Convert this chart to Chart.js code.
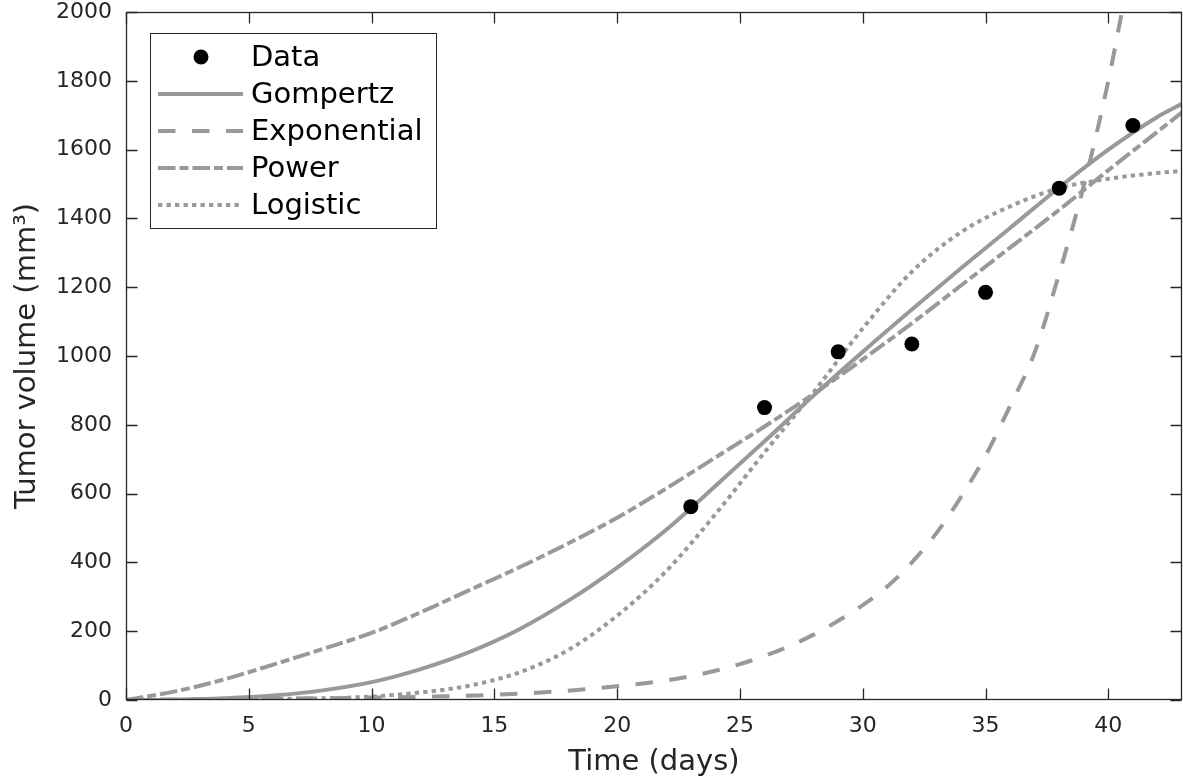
<!DOCTYPE html>
<html>
<head>
<meta charset="utf-8">
<title>Tumor growth models</title>
<script src="https://cdn.jsdelivr.net/npm/chart.js@4.4.1/dist/chart.umd.min.js"></script>
<style>
html, body { margin: 0; padding: 0; background: #fff; }
#wrap { width: 1183px; height: 780px; }
</style>
</head>
<body>
<div id="wrap"><canvas id="chart" width="1183" height="780"></canvas></div>
<script>
// measured tumor volumes
var dataDays = [23, 26, 29, 32, 35, 38, 41];
var dataVolume = [562, 850, 1012, 1035, 1185, 1488, 1670];

// model curves
var fitDays = [0, 2, 4, 6, 8, 10, 12, 14, 16, 18, 20, 22, 24, 26, 28, 30, 32, 34, 36, 38, 40, 42, 43];
var gompertz = [0, 1, 5, 13, 28, 52, 90, 140, 205, 288, 385, 495, 622, 752, 885, 1012, 1135, 1255, 1372, 1490, 1600, 1695, 1733];
var power = [0, 25, 60, 103, 148, 195, 255, 320, 385, 455, 530, 615, 705, 795, 890, 990, 1095, 1205, 1315, 1425, 1540, 1652, 1708];
var logistic = [0, 0, 1, 3, 5, 10, 22, 42, 80, 145, 245, 375, 540, 720, 895, 1080, 1245, 1360, 1435, 1488, 1515, 1532, 1538];

var expDays = [0, 5, 10, 15, 18, 20, 22, 24, 26, 28, 30, 31, 32, 33, 34, 35, 36, 37, 38, 39, 40, 41];
var exponential = [1, 3, 7, 15, 27, 40, 57, 85, 128, 190, 276, 330, 400, 485, 590, 710, 855, 1010, 1240, 1495, 1800, 2170];

var labels = ['Data', 'Gompertz', 'Exponential', 'Power', 'Logistic'];

var FONT = 'DejaVu Sans';
var AXIS = '#262626';
var GREY = '#999999';

function pts(xs, ys) {
    var out = [];
    for (var i = 0; i < xs.length; i++) out.push({x: xs[i], y: ys[i]});
    return out;
}

function curve(label, xs, ys, dash) {
    return {
        label: label,
        data: pts(xs, ys),
        borderColor: GREY,
        borderWidth: 4,
        borderDash: dash,
        pointRadius: 0,
        fill: false,
        cubicInterpolationMode: 'monotone',
        order: 1
    };
}

// box with inward ticks on all four sides
var framePlugin = {
    id: 'frame',
    afterDatasetsDraw: function(chart) {
        var ctx = chart.ctx, a = chart.chartArea;
        var xs = chart.scales.x, ys = chart.scales.y;
        var L = Math.round(a.left) + 0.5, R = Math.round(a.right) - 0.5;
        var T = Math.round(a.top) + 0.5, B = Math.round(a.bottom) - 0.5;
        ctx.save();
        ctx.strokeStyle = AXIS;
        ctx.lineWidth = 1.3;
        ctx.setLineDash([]);
        ctx.strokeRect(L, T, R - L, B - T);
        ctx.beginPath();
        xs.ticks.forEach(function(t) {
            var px = Math.round(xs.getPixelForValue(t.value)) + 0.5;
            ctx.moveTo(px, B); ctx.lineTo(px, B - 11);
            ctx.moveTo(px, T); ctx.lineTo(px, T + 11);
        });
        ys.ticks.forEach(function(t) {
            var py = Math.round(ys.getPixelForValue(t.value)) + 0.5;
            ctx.moveTo(L, py); ctx.lineTo(L + 11, py);
            ctx.moveTo(R, py); ctx.lineTo(R - 11, py);
        });
        ctx.stroke();
        ctx.restore();
    }
};

// legend box in the upper left of the plot
var legendPlugin = {
    id: 'boxLegend',
    afterDraw: function(chart) {
        var ctx = chart.ctx;
        var bx = 150.5, by = 33.5, bw = 286, bh = 195;
        ctx.save();
        ctx.fillStyle = '#fff';
        ctx.fillRect(bx, by, bw, bh);
        ctx.strokeStyle = AXIS;
        ctx.lineWidth = 1;
        ctx.setLineDash([]);
        ctx.strokeRect(bx, by, bw, bh);
        ctx.font = '29px "' + FONT + '"';
        ctx.textBaseline = 'middle';
        ctx.textAlign = 'left';
        chart.data.datasets.forEach(function(ds, i) {
            var ry = 57 + i * 37;
            if (ds.showLine === false) {
                ctx.fillStyle = ds.pointBackgroundColor;
                ctx.beginPath();
                ctx.arc(201, ry, ds.pointRadius, 0, Math.PI * 2);
                ctx.fill();
            } else {
                ctx.strokeStyle = ds.borderColor;
                ctx.lineWidth = ds.borderWidth;
                ctx.setLineDash(ds.borderDash || []);
                ctx.beginPath();
                ctx.moveTo(158, ry);
                ctx.lineTo(243, ry);
                ctx.stroke();
                ctx.setLineDash([]);
            }
            ctx.fillStyle = '#000';
            ctx.fillText(ds.label, 251, ry + 1);
        });
        ctx.restore();
    }
};

window.onload = function() {
    var ctx = document.getElementById('chart').getContext('2d');

    var datasets = [
        {
            label: labels[0],
            data: pts(dataDays, dataVolume),
            showLine: false,
            pointRadius: 7.5,
            pointBackgroundColor: '#000',
            pointBorderWidth: 0,
            borderColor: '#000',
            order: 0
        },
        curve(labels[1], fitDays, gompertz, []),
        curve(labels[2], expDays, exponential, [17.5, 16.5]),
        curve(labels[3], fitDays, power, [17.5, 4, 9, 4]),
        curve(labels[4], fitDays, logistic, [4.3, 4.2])
    ];

    var config = {
        type: 'line',
        data: { datasets: datasets },
        options: {
            responsive: false,
            devicePixelRatio: 1,
            animation: false,
            layout: { padding: 0, autoPadding: false },
            plugins: {
                legend: { display: false },
                tooltip: { enabled: false }
            },
            scales: {
                x: {
                    type: 'linear',
                    min: 0,
                    max: 43,
                    grid: { display: false, drawTicks: false },
                    border: { display: false },
                    ticks: {
                        stepSize: 5,
                        includeBounds: false,
                        padding: 14,
                        color: AXIS,
                        font: { family: FONT, size: 22, lineHeight: 1.1 },
                        callback: function(v) { return String(v); }
                    },
                    title: {
                        display: true,
                        text: 'Time (days)',
                        color: AXIS,
                        font: { family: FONT, size: 29, lineHeight: 1.2 },
                        padding: { top: 0, bottom: 0 }
                    },
                    afterFit: function(s) {
                        s.height = 80;
                        s.paddingRight = 1;
                        s.paddingLeft = 0;
                    }
                },
                y: {
                    type: 'linear',
                    min: 0,
                    max: 2000,
                    grid: { display: false, drawTicks: false },
                    border: { display: false },
                    ticks: {
                        stepSize: 200,
                        padding: 14,
                        color: AXIS,
                        font: { family: FONT, size: 22, lineHeight: 1.1 },
                        callback: function(v) { return String(v); }
                    },
                    title: {
                        display: true,
                        text: 'Tumor volume (mm³)',
                        color: AXIS,
                        font: { family: FONT, size: 29, lineHeight: 1.2 },
                        padding: { top: 10, bottom: 0 }
                    },
                    afterFit: function(s) {
                        s.width = 126;
                        s.paddingTop = 12;
                        s.paddingBottom = 0;
                    }
                }
            }
        },
        plugins: [framePlugin, legendPlugin]
    };
    window.myChart = new Chart(ctx, config);
};
</script>
</body>
</html>
